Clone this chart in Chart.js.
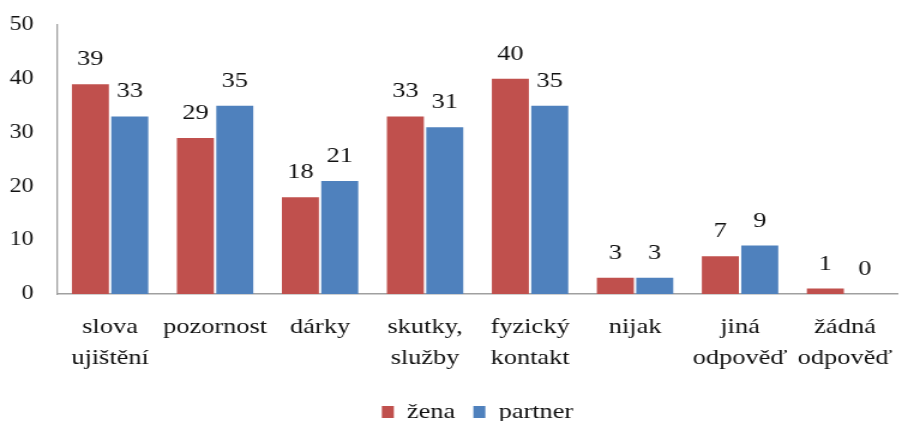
<!DOCTYPE html>
<html>
<head>
<meta charset="utf-8">
<script src="https://cdn.jsdelivr.net/npm/chart.js@4/dist/chart.umd.min.js"></script>
<style>
  html, body { margin: 0; padding: 0; background: #fff; overflow: hidden; }
  #wrap { width: 762px; height: 421px; transform: scaleX(1.19948); transform-origin: 0 0; }
  canvas { display: block; }
</style>
</head>
<body>
<div id="wrap"><canvas id="c" width="762" height="421"></canvas></div>
<script>
const categories = [
  ['slova', 'ujištění'],
  ['pozornost'],
  ['dárky'],
  ['skutky,', 'služby'],
  ['fyzický', 'kontakt'],
  ['nijak'],
  ['jiná', 'odpověď'],
  ['žádná', 'odpověď']
];
const seriesNames = ['žena', 'partner'];
const zenaValues = [39, 29, 18, 33, 40, 3, 7, 1];
const partnerValues = [33, 35, 21, 31, 35, 3, 9, 0];
const yTicks = [0, 10, 20, 30, 40, 50];

const FONT = '"Liberation Serif", "Times New Roman", serif';

const valueLabels = {
  id: 'valueLabels',
  afterDatasetsDraw(chart) {
    const ctx = chart.ctx;
    ctx.save();
    ctx.font = '22px ' + FONT;
    ctx.fillStyle = '#111';
    ctx.textAlign = 'center';
    ctx.textBaseline = 'alphabetic';
    chart.data.datasets.forEach((ds, di) => {
      const meta = chart.getDatasetMeta(di);
      meta.data.forEach((bar, i) => {
        ctx.fillText(String(ds.data[i]), bar.x, bar.y - 19);
      });
    });
    ctx.restore();
  }
};

const legendShift = {
  id: 'legendShift',
  afterLayout(chart) {
    if (chart.legend) {
      chart.legend.top += 12;
      chart.legend.bottom += 12;
    }
  }
};

new Chart(document.getElementById('c'), {
  type: 'bar',
  data: {
    labels: categories,
    datasets: [
      { label: seriesNames[0], data: zenaValues, backgroundColor: '#c0504d' },
      { label: seriesNames[1], data: partnerValues, backgroundColor: '#4f81bd' }
    ]
  },
  options: {
    responsive: false,
    animation: false,
    devicePixelRatio: 1,
    layout: { padding: { top: 25, right: 0, bottom: 0, left: 0 } },
    datasets: { bar: { barPercentage: 0.94, categoryPercentage: 0.75 } },
    scales: {
      x: {
        grid: { display: false, drawTicks: false },
        border: { display: true, color: '#a0a0a0', width: 1.5 },
        ticks: {
          color: '#111',
          font: { family: FONT, size: 22, lineHeight: 1.4 },
          padding: 18,
          maxRotation: 0,
          autoSkip: false
        },
        afterFit(scale) { scale.height = 80; }
      },
      y: {
        min: 0,
        max: 50,
        afterBuildTicks(scale) { scale.ticks = yTicks.map(v => ({ value: v })); },
        grid: { display: false, drawTicks: false },
        border: { display: true, color: '#a0a0a0', width: 1.3 },
        ticks: {
          color: '#111',
          font: { family: FONT, size: 20 },
          padding: 20
        },
        afterFit(scale) {
          scale.width = 48;
          scale.paddingTop = 0;
          scale.paddingBottom = 0;
        }
      }
    },
    plugins: {
      legend: {
        position: 'bottom',
        fullSize: false,
        labels: {
          color: '#111',
          font: { family: FONT, size: 22 },
          boxWidth: 10,
          boxHeight: 12,
          padding: 15
        }
      },
      tooltip: { enabled: false }
    }
  },
  plugins: [valueLabels, legendShift]
});
</script>
</body>
</html>
